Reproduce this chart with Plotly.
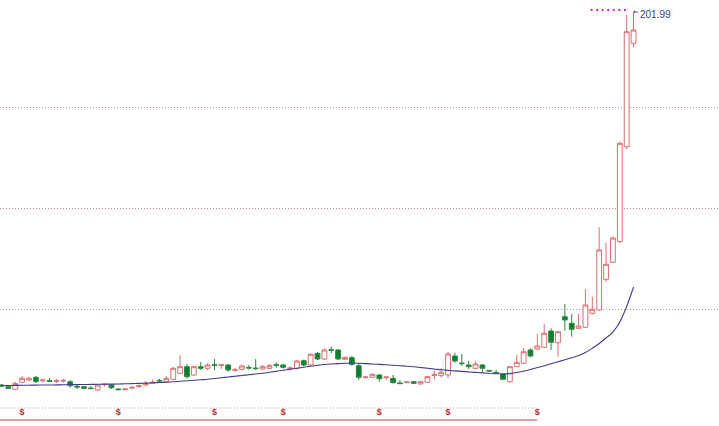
import plotly.graph_objects as go

# ---- data ----
opens = [12.68, 11.82, 10.50, 14.05, 15.21, 16.58, 14.81, 14.91, 14.55, 14.71,
         14.35, 11.97, 11.82, 11.16, 10.14, 12.88, 12.68, 10.65, 10.34, 11.16,
         12.02, 12.68, 13.54, 15.01, 14.35, 15.57, 18.61, 21.96, 17.75, 21.96,
         21.15, 22.97, 22.67, 22.82, 20.13, 20.64, 21.60, 21.30, 20.79, 21.15,
         22.97, 22.82, 20.99, 21.15, 25.00, 22.82, 28.75, 25.86, 30.58, 30.43,
         25.71, 26.52, 22.46, 16.43, 16.58, 17.75, 16.43, 16.07, 13.69, 13.89,
         14.35, 13.18, 14.05, 17.60, 17.39, 17.75, 27.38, 23.83, 22.82, 21.15,
         22.82, 20.08, 19.07, 18.26, 14.35, 21.96, 23.68, 30.43, 30.93, 31.80,
         40.06, 34.13, 47.31, 43.97, 41.43, 41.94, 49.04, 50.71, 66.28, 74.90,
         85.34, 133.52, 185.95]
highs = [13.18, 12.42, 14.20, 17.39, 16.73, 17.24, 15.31, 16.23, 15.72, 15.72,
         15.21, 12.68, 12.17, 12.17, 13.18, 13.44, 13.18, 10.90, 11.16, 12.17,
         12.93, 14.71, 15.47, 15.72, 17.39, 21.81, 27.64, 23.33, 22.31, 24.34,
         23.68, 25.86, 23.07, 23.33, 21.30, 23.17, 22.82, 25.86, 22.82, 23.33,
         24.19, 23.33, 22.06, 25.36, 25.61, 28.65, 29.41, 31.29, 32.10, 30.93,
         27.13, 27.54, 23.68, 16.99, 18.51, 18.26, 16.84, 17.75, 15.21, 14.45,
         14.71, 14.71, 17.24, 19.93, 21.15, 29.56, 29.06, 28.40, 25.00, 25.00,
         23.33, 20.28, 20.28, 18.61, 22.31, 27.89, 31.44, 31.29, 38.54, 43.61,
         41.43, 40.06, 53.75, 48.68, 48.68, 61.21, 57.45, 92.65, 84.84, 87.88,
         136.06, 200.30, 201.99]
lows = [11.66, 10.65, 10.14, 13.69, 14.71, 13.69, 13.95, 14.45, 13.69, 13.95,
        11.31, 10.65, 10.65, 10.65, 9.63, 11.92, 10.65, 9.89, 9.89, 10.40,
        11.16, 12.17, 13.18, 13.95, 13.95, 15.21, 18.26, 15.87, 17.24, 20.28,
        20.28, 20.28, 20.79, 19.42, 19.27, 20.03, 20.54, 20.28, 20.28, 20.54,
        21.45, 21.05, 20.03, 20.54, 22.06, 22.31, 25.36, 25.36, 28.75, 25.36,
        25.36, 22.46, 15.21, 15.97, 16.23, 14.35, 15.21, 13.44, 13.18, 13.69,
        13.18, 12.93, 13.69, 15.57, 16.58, 16.07, 23.99, 22.31, 20.79, 20.64,
        19.12, 19.27, 18.26, 15.21, 13.95, 21.81, 23.33, 26.72, 30.43, 31.44,
        30.43, 27.03, 40.21, 37.17, 41.08, 41.58, 48.43, 50.20, 64.91, 74.54,
        84.69, 132.20, 183.93]
closes = [12.17, 11.00, 13.54, 16.07, 16.07, 14.35, 15.21, 14.60, 14.86, 15.01,
          12.32, 11.66, 11.00, 10.85, 12.68, 13.18, 11.31, 10.34, 10.65, 11.46,
          12.32, 13.54, 14.05, 14.71, 16.07, 21.15, 21.96, 16.89, 21.96, 21.15,
          22.82, 22.67, 22.97, 20.28, 20.44, 22.31, 21.30, 20.99, 21.96, 22.46,
          22.67, 21.65, 21.30, 24.85, 22.82, 28.25, 25.86, 30.43, 30.27, 25.86,
          26.72, 23.17, 16.58, 16.73, 18.10, 15.87, 16.73, 13.84, 13.39, 14.20,
          13.54, 14.35, 16.89, 17.90, 19.12, 28.40, 24.85, 23.53, 21.96, 23.33,
          21.15, 19.78, 18.76, 15.57, 21.96, 24.19, 29.56, 27.38, 32.45, 38.89,
          34.33, 39.71, 45.64, 40.92, 42.60, 53.25, 51.07, 81.14, 73.88, 87.22,
          135.24, 191.84, 192.70]
ma_line = [12.42, 12.42, 12.47, 12.53, 12.58, 12.63, 12.68, 12.68, 12.73, 12.78,
           12.83, 12.88, 12.93, 12.98, 13.03, 13.08, 13.13, 13.18, 13.29, 13.39,
           13.49, 13.64, 13.79, 13.95, 14.10, 14.30, 14.55, 14.81, 15.06, 15.31,
           15.57, 15.97, 16.38, 16.73, 17.14, 17.49, 17.90, 18.26, 18.66, 19.12,
           19.62, 20.13, 20.69, 21.20, 21.70, 22.21, 22.67, 23.07, 23.33, 23.53,
           23.68, 23.73, 23.68, 23.53, 23.33, 23.12, 22.92, 22.72, 22.46, 22.21,
           21.91, 21.55, 21.15, 20.79, 20.39, 20.08, 19.83, 19.57, 19.32, 19.07,
           18.81, 18.61, 18.41, 18.26, 18.46, 19.02, 19.68, 20.54, 21.55, 22.41,
           23.43, 24.44, 25.46, 26.47, 27.64, 29.16, 31.29, 33.72, 36.51, 39.55,
           44.62, 52.48, 62.37]
signal_idx = [3, 17, 31, 41, 55, 65, 78]
signal_level = -1.52
grid_levels = [51.22, 102.43, 153.65]
base_level = 1.01
track_level = -5.07
high_label = "201.99"

# ---- styles ----
UP = "#dd6e6e"
DOWN_LINE = "#2b8a3e"
DOWN_FILL = "#0f7a30"
MA_COLOR = "#3d3d8f"
X_RANGE = [-0.218, 104.44]
Y_RANGE = [-8.11, 207.91]

x = list(range(len(opens)))

fig = go.Figure()
fig.add_trace(go.Candlestick(
    x=x, open=opens, high=highs, low=lows, close=closes,
    increasing=dict(line=dict(color=UP, width=1), fillcolor="white"),
    decreasing=dict(line=dict(color=DOWN_LINE, width=1), fillcolor=DOWN_FILL),
    whiskerwidth=0, hoverinfo="skip", showlegend=False,
))
fig.add_trace(go.Scatter(
    x=x, y=ma_line, mode="lines",
    line=dict(color=MA_COLOR, width=1.1, shape="spline"),
    hoverinfo="skip", showlegend=False,
))
fig.add_trace(go.Scatter(
    x=signal_idx, y=[signal_level] * len(signal_idx), mode="text",
    text=["<b>$</b>"] * len(signal_idx),
    textfont=dict(size=9, color="#b8282a", family="Liberation Sans"),
    hoverinfo="skip", showlegend=False,
))

# bottom track lines ending at last signal
end_x = signal_idx[-1]
fig.add_shape(type="line", xref="x", yref="y", x0=X_RANGE[0], x1=end_x,
              y0=base_level, y1=base_level,
              line=dict(color="#b09a9e", width=1, dash="1px,2px"))
fig.add_shape(type="line", xref="x", yref="y", x0=X_RANGE[0], x1=end_x,
              y0=track_level, y1=track_level,
              line=dict(color="#c24a4a", width=1))

# highest-price marker
max_h = max(highs)
max_i = highs.index(max_h)
fig.add_shape(type="line", xref="x", yref="y", x0=max_i - 6.25, x1=max_i - 1.0,
              y0=max_h + 0.9, y1=max_h + 0.9,
              line=dict(color="#e020e0", width=2, dash="2px,3.55px"))
fig.add_annotation(x=max_i, y=max_h, text=high_label, showarrow=True,
                   ax=22, ay=3, arrowhead=1, arrowsize=0.7, arrowwidth=0.8,
                   arrowcolor="#4a5080",
                   font=dict(size=10, color="#3a4577", family="Liberation Sans"))

fig.update_layout(
    width=719, height=426,
    margin=dict(l=0, r=0, t=0, b=0),
    paper_bgcolor="white", plot_bgcolor="white",
    boxgap=0.3, boxgroupgap=0,
    hovermode=False, showlegend=False,
    xaxis=dict(range=X_RANGE, visible=True, showticklabels=False, showgrid=False,
               zeroline=False, showline=False, ticks="", rangeslider=dict(visible=False),
               fixedrange=True),
    yaxis=dict(range=Y_RANGE, showticklabels=False, tickvals=grid_levels,
               showgrid=True, gridcolor="#c48c98", gridwidth=1, griddash="1px,2px",
               zeroline=False, showline=False, ticks="", fixedrange=True),
)

fig.write_html("out.html", config={"displayModeBar": False},
               post_script="document.body.style.margin='0';document.body.style.overflow='hidden';")
